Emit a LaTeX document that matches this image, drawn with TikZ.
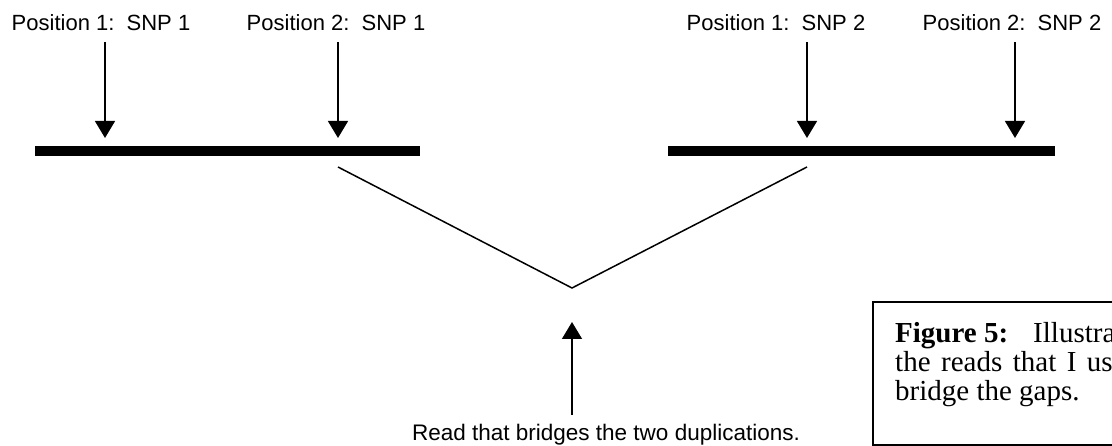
\documentclass[tikz,border=0pt]{standalone}
\usepackage{fontspec}
\setmainfont{Liberation Serif}
\newfontfamily\arialf{Liberation Sans}
\usetikzlibrary{arrows.meta}
\begin{document}
\begin{tikzpicture}[x=1pt,y=-1pt,
  lbl/.style={font=\arialf\fontsize{22}{26}\selectfont, inner sep=0pt, anchor=base},
  snparrow/.style={line width=1.4pt, -{Triangle[width=20pt,length=17pt]}},
  dupbar/.style={fill=black, draw=none, inner sep=0pt, minimum height=10pt},
  readline/.style={line width=1.5pt, line join=miter},
  captxt/.style={font=\fontsize{29}{31}\selectfont, inner sep=0pt, anchor=base west}]
\useasboundingbox (0,0) rectangle (1112,446);
\clip (0,0) rectangle (1112,446);
% labels
\node[lbl] (l1) at (101,31) {Position 1:\ \ SNP 1};
\node[lbl] (l2) at (336,31) {Position 2:\ \ SNP 1};
\node[lbl] (l3) at (776,31) {Position 1:\ \ SNP 2};
\node[lbl] (l4) at (1012,31) {Position 2:\ \ SNP 2};
% bars
\node[dupbar, minimum width=385pt] (bar1) at (227.5,151.5) {};
\node[dupbar, minimum width=387pt] (bar2) at (861.5,151.5) {};
% arrow coordinates
\coordinate (a1s) at (105,42); \coordinate (a1e) at (105,138);
\coordinate (a2s) at (338,42); \coordinate (a2e) at (338,138);
\coordinate (a3s) at (807,42); \coordinate (a3e) at (807,138);
\coordinate (a4s) at (1015,42); \coordinate (a4e) at (1015,138);
\draw[snparrow] (a1s) -- (a1e);
\draw[snparrow] (a2s) -- (a2e);
\draw[snparrow] (a3s) -- (a3e);
\draw[snparrow] (a4s) -- (a4e);
% read
\coordinate (rl) at (338,167);
\coordinate (rv) at (572,288);
\coordinate (rr) at (807,167);
\draw[readline] (rl) -- (rv) -- (rr);
% bottom label and arrow
\node[lbl, font=\arialf\fontsize{22.5}{26}\selectfont] (rlabel) at (606,440) {Read that bridges the two duplications.};
\coordinate (ub) at (572,415);
\coordinate (ut) at (572,322);
\draw[snparrow] (ub) -- (ut);
% caption box
\draw[line width=1.3pt] (873,302) rectangle (1140,445);
\node[captxt] (c1) at (895,343) {\textbf{Figure 5:}\hspace{25pt}Illustration of};
\node[captxt] (c2) at (895,372) {\spaceskip=10.5pt the reads that I used to};
\node[captxt] (c3) at (895,401) {bridge the gaps.};
\end{tikzpicture}
\end{document}
